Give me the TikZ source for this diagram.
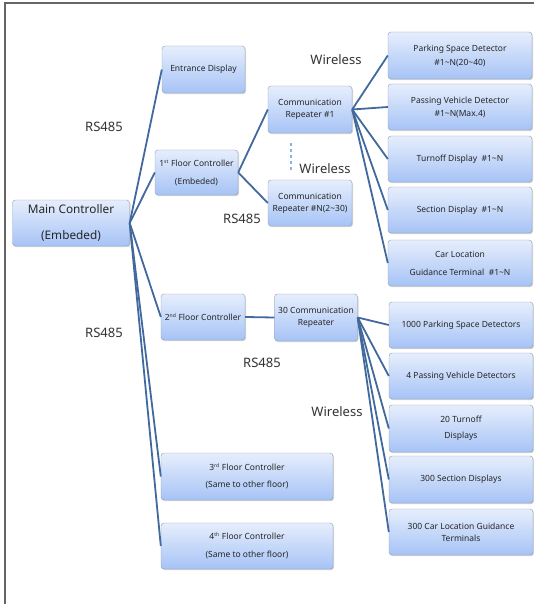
\documentclass[tikz,border=0pt]{standalone}
\usepackage{fontspec}
\setmainfont{Noto Sans}
\usetikzlibrary{positioning,shadows}

\definecolor{boxtop}{HTML}{E6EEFC}
\definecolor{boxbot}{HTML}{A6C3F6}
\definecolor{boxline}{HTML}{8C9DB5}
\definecolor{wire}{HTML}{41699E}
\definecolor{dots}{HTML}{8DB3E2}

\begin{document}
\begin{tikzpicture}
  [x=1pt,y=-1pt,
   every node/.style={font=\fontsize{8.5}{10}\selectfont,text=black!85},
   unit/.style={draw=boxline,rounded corners=3pt,top color=boxtop,bottom color=boxbot,
     drop shadow={shadow xshift=1pt,shadow yshift=-1.2pt,opacity=.35},
     align=center,inner sep=1pt,minimum height=#1},
   unit/.default=46pt,
   link/.style={draw=wire,line width=1.8pt},
   bus/.style={font=\fontsize{13}{15}\selectfont,text=black!80}]

  \useasboundingbox (0,0) rectangle (534,604);
  \draw[black!60,line width=1.5pt] (534,3) -- (5,3) -- (5,604);

  % controllers
  \node[unit,minimum width=117pt,font=\fontsize{11.8}{14}\selectfont] (main) at (71,223) {Main Controller\\[12pt](Embeded)};
  \node[unit=47pt,minimum width=83pt] (entr) at (203.5,69.5) {Entrance Display};
  \node[unit=45pt,minimum width=83pt] (fl1) at (196.5,172.5) {1\textsuperscript{\tiny st} Floor Controller\\[8pt](Embeded)};
  \node[unit,minimum width=84pt] (fl2) at (203,317) {2\textsuperscript{\tiny nd} Floor Controller};
  \node[unit=47pt,minimum width=172pt] (fl3) at (247,476.5) {3\textsuperscript{\tiny rd} Floor Controller\\[7pt](Same to other floor)};
  \node[unit,minimum width=172pt] (fl4) at (247,546) {4\textsuperscript{\tiny th} Floor Controller\\[8pt](Same to other floor)};

  % repeaters
  \node[unit=47pt,minimum width=84pt] (rep1) at (310,109.5) {Communication\\[2pt]Repeater \#1};
  \node[unit,minimum width=84pt] (repN) at (310,203) {Communication\\[2pt]Repeater \#N(2\textasciitilde30)};
  \node[unit=47pt,minimum width=83pt] (rep30) at (316,317.5) {30 Communication\\[2pt]Repeater};

  % 1st floor devices
  \node[unit=47pt,minimum width=144pt] (park) at (460,55.5) {Parking Space Detector\\[4pt]\#1\textasciitilde N(20\textasciitilde40)};
  \node[unit,minimum width=144pt] (pass) at (460,107) {Passing Vehicle Detector\\[3pt]\#1\textasciitilde N(Max.4)};
  \node[unit,minimum width=144pt] (turn) at (460,159) {Turnoff Display\ \ \#1\textasciitilde N};
  \node[unit,minimum width=144pt] (sect) at (460,210) {Section Display\ \ \#1\textasciitilde N};
  \node[unit,minimum width=144pt] (car) at (460,263) {Car Location\\[8pt]Guidance Terminal\ \ \#1\textasciitilde N};

  % 2nd floor devices
  \node[unit,minimum width=144pt] (park2) at (461,325) {1000 Parking Space Detectors};
  \node[unit,minimum width=144pt] (pass2) at (461,376) {4 Passing Vehicle Detectors};
  \node[unit=47pt,minimum width=144pt] (turn2) at (461,428.5) {20 Turnoff\\[6pt]Displays};
  \node[unit=47pt,minimum width=144pt] (sect2) at (461,479.5) {300 Section Displays};
  \node[unit,minimum width=144pt] (car2) at (461,532) {300 Car Location Guidance\\[2pt]Terminals};

  % bus labels
  \node[bus] (w1) at (336,60) {Wireless};
  \node[bus] (w2) at (325,169) {Wireless};
  \node[bus] (w3) at (337,412) {Wireless};
  \node[bus] (r1) at (104,127) {RS485};
  \node[bus] (r2) at (242,219) {RS485};
  \node[bus] (r3) at (104,333) {RS485};
  \node[bus] (r4) at (262,363) {RS485};

  \draw[dots,dashed,line width=1.2pt] (291,143) -- (291,171);

  \draw[link] (main.east) -- (entr.west);
  \draw[link] (main.east) -- (fl1.west);
  \draw[link] (main.east) -- (fl2.west);
  \draw[link] (main.east) -- (fl3.west);
  \draw[link] (main.east) -- (fl4.west);
  \draw[link] (fl1.east) -- (rep1.west);
  \draw[link] (fl1.east) -- (repN.west);
  \draw[link] (fl2.east) -- (rep30.west);
  \foreach \dev in {park,pass,turn,sect,car}
    \draw[link] (rep1.east) -- (\dev.west);
  \foreach \dev in {park2,pass2,turn2,sect2,car2}
    \draw[link] (rep30.east) -- (\dev.west);
\end{tikzpicture}
\end{document}
